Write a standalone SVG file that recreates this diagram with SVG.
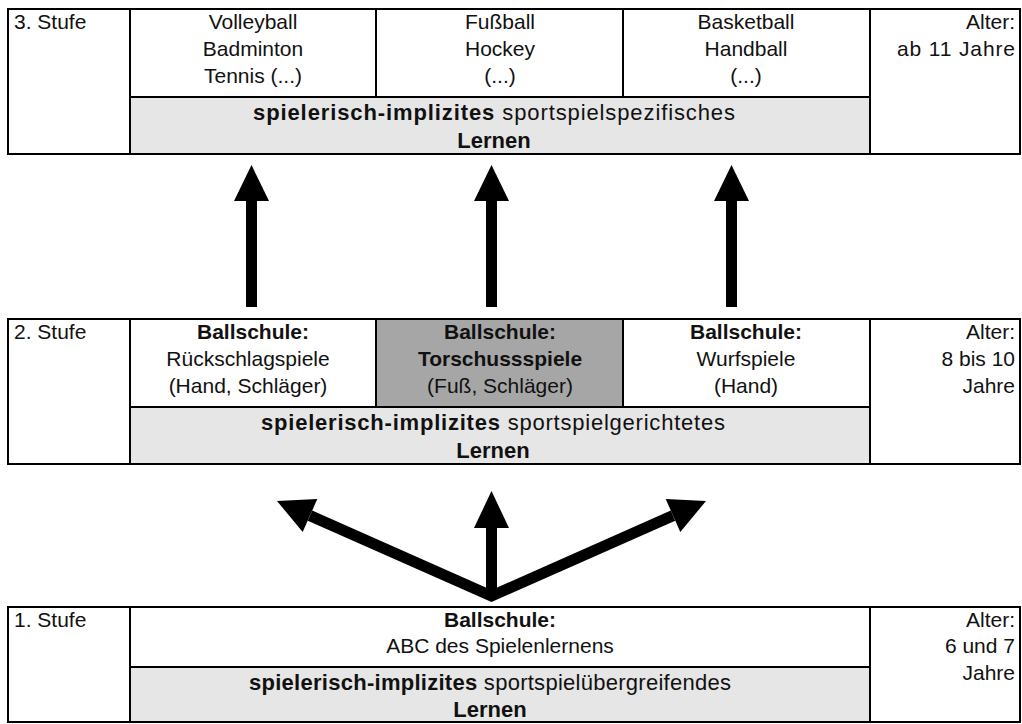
<svg xmlns="http://www.w3.org/2000/svg" width="1022" height="724" viewBox="0 0 1022 724">
<defs>
<style>
text{font-family:"Liberation Sans",Arial,sans-serif;font-size:21px;fill:#111}
.g{font-size:22px}
.b{font-weight:bold}
.c{text-anchor:middle}
.r{text-anchor:end}
.ln{stroke:#000;stroke-width:2;fill:none}
.lg{fill:#e6e6e6}
.dg{fill:#a6a6a6}
.ar{fill:#000}
</style>
</defs>
<rect width="1022" height="724" fill="#fff"/>

<g id="stufe3">
<rect class="lg" x="130" y="97" width="740" height="57"/>
<rect class="ln" x="8" y="9" width="1012" height="145"/>
<line class="ln" x1="130" y1="9" x2="130" y2="154"/>
<line class="ln" x1="870" y1="9" x2="870" y2="154"/>
<line class="ln" x1="130" y1="97" x2="870" y2="97"/>
<line class="ln" x1="376" y1="9" x2="376" y2="97"/>
<line class="ln" x1="623" y1="9" x2="623" y2="97"/>
<text x="14" y="29">3. Stufe</text>
<text class="c" x="253" y="29">Volleyball</text>
<text class="c" x="253" y="56">Badminton</text>
<text class="c" x="253" y="83">Tennis (...)</text>
<text class="c" x="500" y="29">Fußball</text>
<text class="c" x="500" y="56">Hockey</text>
<text class="c" x="500" y="83">(...)</text>
<text class="c" x="746" y="29">Basketball</text>
<text class="c" x="746" y="56">Handball</text>
<text class="c" x="746" y="83">(...)</text>
<text class="r" x="1015" y="29">Alter:</text>
<text class="r" x="1015" y="56" textLength="118" lengthAdjust="spacing">ab 11 Jahre</text>
<text class="c g" x="494" y="120" textLength="482" lengthAdjust="spacing"><tspan class="b">spielerisch-implizites</tspan> sportspielspezifisches</text>
<text class="c g b" x="494" y="148">Lernen</text>
</g>

<g id="stufe2">
<rect class="dg" x="376" y="319" width="247" height="88"/>
<rect class="lg" x="130" y="407" width="740" height="57"/>
<rect class="ln" x="8" y="319" width="1012" height="145"/>
<line class="ln" x1="130" y1="319" x2="130" y2="464"/>
<line class="ln" x1="870" y1="319" x2="870" y2="464"/>
<line class="ln" x1="130" y1="407" x2="870" y2="407"/>
<line class="ln" x1="376" y1="319" x2="376" y2="407"/>
<line class="ln" x1="623" y1="319" x2="623" y2="407"/>
<text x="14" y="339">2. Stufe</text>
<text class="c b" x="253" y="339">Ballschule:</text>
<text class="c" x="248" y="366">Rückschlagspiele</text>
<text class="c" x="248" y="393">(Hand, Schläger)</text>
<text class="c b" x="500" y="339">Ballschule:</text>
<text class="c b" x="500" y="366">Torschussspiele</text>
<text class="c" x="500" y="393">(Fuß, Schläger)</text>
<text class="c b" x="746" y="339">Ballschule:</text>
<text class="c" x="746" y="366">Wurfspiele</text>
<text class="c" x="746" y="393">(Hand)</text>
<text class="r" x="1015" y="339">Alter:</text>
<text class="r" x="1015" y="366">8 bis 10</text>
<text class="r" x="1015" y="393">Jahre</text>
<text class="c g" x="493" y="430" textLength="464" lengthAdjust="spacing"><tspan class="b">spielerisch-implizites</tspan> sportspielgerichtetes</text>
<text class="c g b" x="493" y="458">Lernen</text>
</g>

<g id="stufe1">
<rect class="lg" x="130" y="667" width="740" height="55"/>
<rect class="ln" x="8" y="607" width="1012" height="115"/>
<line class="ln" x1="130" y1="607" x2="130" y2="722"/>
<line class="ln" x1="870" y1="607" x2="870" y2="722"/>
<line class="ln" x1="130" y1="667" x2="870" y2="667"/>
<text x="14" y="627">1. Stufe</text>
<text class="c b" x="500" y="627">Ballschule:</text>
<text class="c" x="500" y="653">ABC des Spielenlernens</text>
<text class="r" x="1015" y="627">Alter:</text>
<text class="r" x="1015" y="653">6 und 7</text>
<text class="r" x="1015" y="680">Jahre</text>
<text class="c g" x="490" y="690" textLength="482" lengthAdjust="spacing"><tspan class="b">spielerisch-implizites</tspan> sportspielübergreifendes</text>
<text class="c g b" x="490" y="717">Lernen</text>
</g>

<g id="connectors">
<rect class="ar" x="246" y="199" width="11" height="108"/>
<polygon class="ar" points="251.5,165 234,201 269,201"/>
<rect class="ar" x="486" y="199" width="11" height="108"/>
<polygon class="ar" points="491.5,165 474,201 509,201"/>
<rect class="ar" x="726" y="199" width="11" height="108"/>
<polygon class="ar" points="731.5,165 714,201 749,201"/>
<path d="M310,515.6 L491.5,596 L673,515.6" stroke="#000" stroke-width="11" fill="none" stroke-linejoin="miter" stroke-miterlimit="10"/>
<polygon class="ar" points="277,501 317.3,499 302.7,532"/>
<polygon class="ar" points="706,501 665.7,499 680.3,532"/>
<rect class="ar" x="486" y="526" width="11" height="72"/>
<polygon class="ar" points="491.5,491 474,528 509,528"/>
</g>
</svg>
